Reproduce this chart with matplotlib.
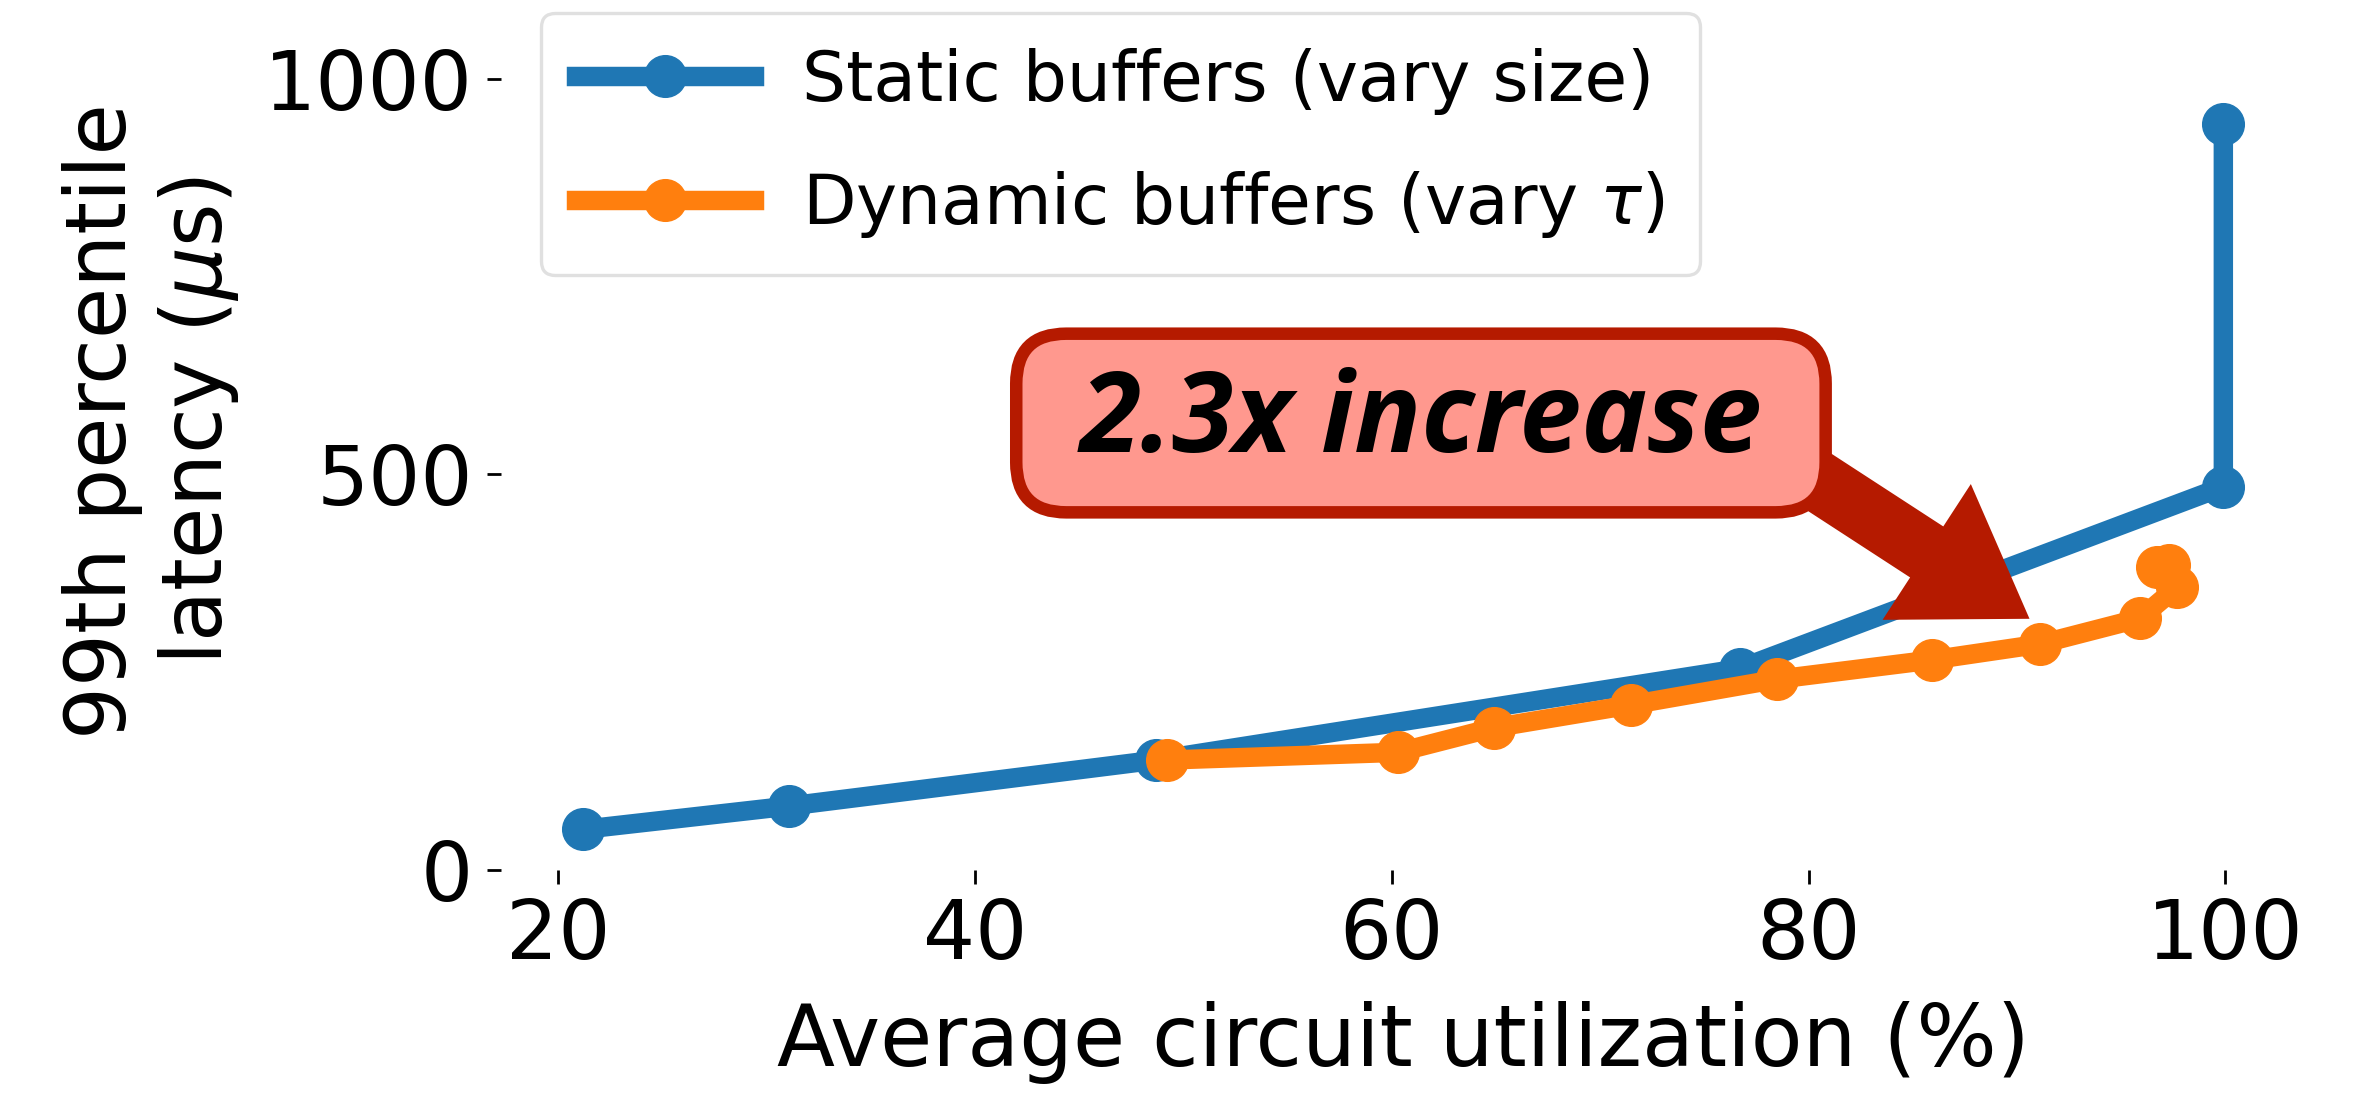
import matplotlib
matplotlib.use('Agg')
import matplotlib.pyplot as plt
from matplotlib.patches import BoxStyle

# average circuit utilization (%) and 99th percentile latency (us)
static_util = [21.2, 31.1, 48.7, 76.7, 99.9, 99.9]
static_lat = [50.8, 80.3, 138.4, 254.0, 484.0, 943.0]

dynamic_util = [49.2, 60.3, 64.9, 71.5, 78.5, 85.9, 91.1, 95.9, 97.7, 97.3, 96.7]
dynamic_lat = [138.4, 148.2, 179.3, 208.3, 240.6, 264.9, 285.0, 317.6, 357.5, 385.0, 382.8]

series_labels = ['Static buffers (vary size)', r'Dynamic buffers (vary $\tau$)']
x_ticks = [20, 40, 60, 80, 100]
y_ticks = [0, 500, 1000]

callout = '2.3x increase'
callout_pos = (61.4, 564.5)
arrow_tail = (78.6, 522.6)
arrow_tip = (90.6, 317.0)

plt.rcParams['font.family'] = ['DejaVu Sans']

fig = plt.figure(figsize=(23.56, 10.95), dpi=100)
ax = fig.add_axes([0.2127, 0.2059, 0.7658, 0.8199])

ax.plot(static_util, static_lat, '-o', color='#1f77b4', lw=14, ms=30,
        label=series_labels[0])
ax.plot(dynamic_util, dynamic_lat, '-o', color='#ff7f0e', lw=14, ms=30,
        label=series_labels[1])

ax.set_ylim(0, 1135)
ax.set_xticks(x_ticks)
ax.set_yticks(y_ticks)
for s in ax.spines.values():
    s.set_visible(False)
ax.tick_params(length=10, width=2, pad=10, labelsize=59)
ax.set_xlabel('Average circuit utilization (%)', fontsize=61, labelpad=18)
ax.set_ylabel('99th percentile\nlatency ($\\mu$s)', fontsize=60, labelpad=17)

leg = ax.legend(loc='upper left', bbox_to_anchor=(541 / 2356, 1 - 13 / 1095),
                bbox_transform=fig.transFigure, borderaxespad=0, fontsize=50,
                borderpad=0.5, labelspacing=0.78, handlelength=2.56,
                handletextpad=0.7)
leg.get_frame().set_edgecolor('#d9d9d9')
leg.get_frame().set_linewidth(2.4)

# rounded box that is wider on the sides than on top and bottom
_round = BoxStyle.Round(pad=0.3, rounding_size=0.45)


def callout_box(x0, y0, width, height, mutation_size):
    extra = 0.27 * mutation_size
    return _round(x0 - extra, y0, width + 2 * extra, height, mutation_size)


# big arrow from the callout box down to the gap between the curves
ax.annotate('', xy=arrow_tip, xytext=arrow_tail, zorder=5,
            arrowprops=dict(arrowstyle='simple,head_length=0.883,head_width=1.166,tail_width=0.438',
                            mutation_scale=100, color='#b51a00', lw=0,
                            shrinkA=0, shrinkB=0))
ax.text(callout_pos[0], callout_pos[1], callout, ha='center', va='center',
        fontsize=80, family='Open Sans', weight='bold', style='italic', zorder=6,
        bbox=dict(boxstyle=callout_box, fc='#ff988e', ec='#b51a00', lw=9))

fig.savefig('out.png', dpi=100)
